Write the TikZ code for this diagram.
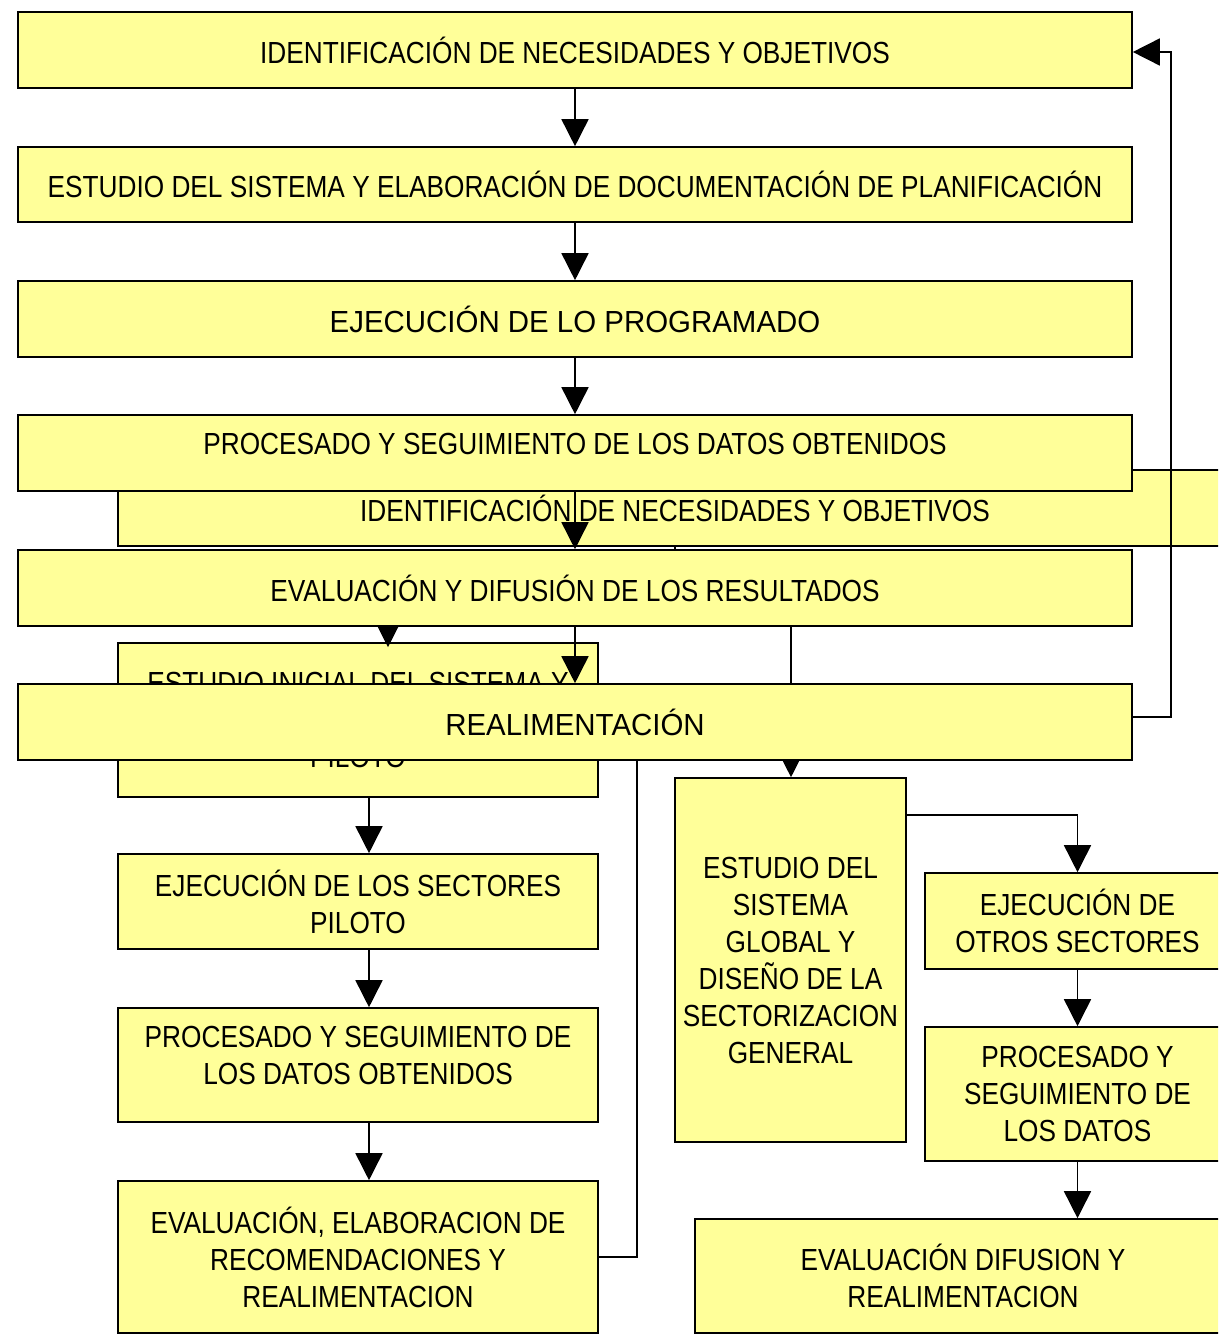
\documentclass[tikz,border=0pt]{standalone}
\usepackage{fontspec}
\setmainfont{Liberation Sans}[FakeStretch=0.86]
\newfontfamily\widerfont{Liberation Sans}[FakeStretch=0.965]
\usetikzlibrary{arrows.meta}
\definecolor{boxyellow}{RGB}{255,255,153}
\begin{document}
\begin{tikzpicture}[x=1pt,y=-1pt,
  box/.style={draw=black, fill=boxyellow, line width=1.6pt, inner sep=0pt,
    align=center, font=\fontsize{30.5}{37}\selectfont},
  widebox/.style={box, font=\fontsize{30.5}{37}\widerfont},
  txt/.style={inner sep=0pt, align=center, font=\fontsize{30.5}{37}\selectfont},
  conn/.style={draw=black, line width=1.6pt, -{Triangle[length=27pt,width=27pt]}},
  plain/.style={draw=black, line width=1.6pt}]
\useasboundingbox (0,0) rectangle (1218,1335);
\clip (0,0) rectangle (1218,1335);

% --- hidden second-layer boxes
\node[box, minimum width=480pt, minimum height=154pt] (ei) at (358,720)
  {ESTUDIO INICIAL DEL SISTEMA Y\\DISEÑO DE LOS SECTORES\\PILOTO};
\node[box, minimum width=1114pt, minimum height=76pt] (hb) at (675,508)
  {IDENTIFICACIÓN DE NECESIDADES Y OBJETIVOS};
\node[box, minimum width=231pt, minimum height=364pt] (g) at (790.5,960)
  {ESTUDIO DEL\\SISTEMA\\GLOBAL Y\\DISEÑO DE LA\\SECTORIZACION\\GENERAL};
\node[box, minimum width=480pt, minimum height=95pt] (l2) at (358,901.5)
  {EJECUCIÓN DE LOS SECTORES\\PILOTO};
\node[box, minimum width=480pt, minimum height=114pt] (l3) at (358,1065) {};
\node[txt] (l3t) at (358,1055) {PROCESADO Y SEGUIMIENTO DE\\LOS DATOS OBTENIDOS};
\node[box, minimum width=480pt, minimum height=152pt] (l4) at (358,1257)
  {EVALUACIÓN, ELABORACION DE\\RECOMENDACIONES Y\\REALIMENTACION};
\node[box, minimum width=305pt, minimum height=96pt] (r1) at (1077.5,921)
  {EJECUCIÓN DE\\OTROS SECTORES};
\node[box, minimum width=305pt, minimum height=134pt] (r2) at (1077.5,1094)
  {PROCESADO Y\\SEGUIMIENTO DE\\LOS DATOS};
\node[box, minimum width=536pt, minimum height=114pt] (r3) at (963,1276)
  {EVALUACIÓN DIFUSION Y\\REALIMENTACION};

% --- connectors of the hidden layer
\coordinate (split) at (675,590);
\coordinate (fb2) at (637,1257);
\coordinate (fbtop) at (637,761);
\draw[plain] (hb.south) -- (split);
\draw[conn, shorten >=-5pt] (split) -| ([xshift=30pt]ei.north);
\draw[conn] (split) -| ([xshift=0.5pt]g.north);
\draw[plain] (l4.east) -- (fb2) -- (fbtop);
\draw[conn] ([xshift=11pt]ei.south) -- ([xshift=11pt]l2.north);
\draw[conn] ([xshift=11pt]l2.south) -- ([xshift=11pt]l3.north);
\draw[conn] ([xshift=11pt]l3.south) -- ([xshift=11pt]l4.north);
\draw[conn] ([yshift=-38pt]g.north east) -| (r1.north);
\draw[conn] (r1.south) -- (r2.north);
\draw[conn] (r2.south) -- (r2.south |- r3.north);

% --- main column
\node[box, minimum width=1114pt, minimum height=76pt] (b1) at (575,50)
  {IDENTIFICACIÓN DE NECESIDADES Y OBJETIVOS};
\node[box, minimum width=1114pt, minimum height=75pt] (b2) at (575,184.5)
  {ESTUDIO DEL SISTEMA Y ELABORACIÓN DE DOCUMENTACIÓN DE PLANIFICACIÓN};
\node[widebox, minimum width=1114pt, minimum height=76pt] (b3) at (575,319)
  {EJECUCIÓN DE LO PROGRAMADO};
\node[box, minimum width=1114pt, minimum height=76pt] (b4) at (575,453) {};
\node[txt] (b4t) at (575,444) {PROCESADO Y SEGUIMIENTO DE LOS DATOS OBTENIDOS};
\node[box, minimum width=1114pt, minimum height=76pt] (b5) at (575,588)
  {EVALUACIÓN Y DIFUSIÓN DE LOS RESULTADOS};
\node[widebox, minimum width=1114pt, minimum height=76pt] (b6) at (575,722)
  {REALIMENTACIÓN};

\draw[conn] (b1.south) -- (b2.north);
\draw[conn] (b2.south) -- (b3.north);
\draw[conn] (b3.south) -- (b4.north);
\draw[conn] (b4.south) -- (b5.north);
\draw[conn] (b5.south) -- (b6.north);
\draw[conn] ([yshift=5pt]b6.east) -- ++(38,0) |- ([yshift=-2pt]b1.east);
\end{tikzpicture}
\end{document}
